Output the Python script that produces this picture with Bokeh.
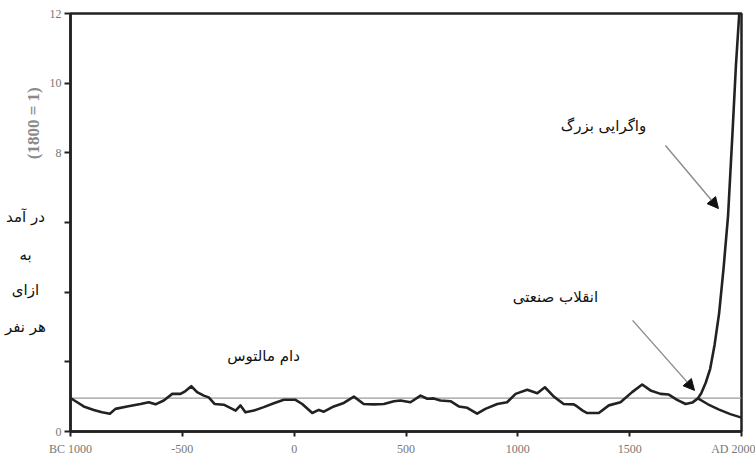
from bokeh.plotting import figure
from bokeh.models import Range1d, Label, Arrow, NormalHead, FixedTicker
from bokeh.layouts import row
from bokeh.core.properties import value
from bokeh.embed import file_html
from bokeh.resources import INLINE

# ---- data ----
years_malthus = [-1000, -970, -941, -896, -859, -824, -799, -747, -687, -650, -620, -583,
                 -545, -508, -486, -460, -434, -404, -382, -356, -315, -277, -262, -240,
                 -218, -180, -136, -91, -46, 6, 36, 81, 110, 133, 177, 222, 267, 311, 356,
                 401, 446, 475, 520, 565, 595, 624, 654, 699, 736, 774, 818, 855, 908, 952,
                 990, 1042, 1087, 1121, 1161, 1205, 1250, 1265, 1290, 1310, 1362, 1407,
                 1459, 1511, 1556, 1593, 1638, 1675, 1712, 1750, 1780, 1805]
income_malthus = [0.96, 0.84, 0.72, 0.62, 0.55, 0.51, 0.65, 0.72, 0.79, 0.84, 0.78, 0.89,
                  1.08, 1.08, 1.16, 1.30, 1.13, 1.03, 0.98, 0.79, 0.77, 0.65, 0.60, 0.75,
                  0.55, 0.60, 0.70, 0.81, 0.91, 0.91, 0.79, 0.53, 0.62, 0.57, 0.72, 0.82,
                  1.00, 0.79, 0.78, 0.79, 0.87, 0.89, 0.84, 1.03, 0.94, 0.95, 0.89, 0.87,
                  0.72, 0.68, 0.51, 0.65, 0.79, 0.84, 1.08, 1.20, 1.10, 1.27, 1.00, 0.79,
                  0.78, 0.72, 0.60, 0.53, 0.53, 0.75, 0.84, 1.13, 1.35, 1.18, 1.08, 1.06,
                  0.91, 0.79, 0.83, 0.95]

years_rich = [1805, 1820, 1840, 1860, 1880, 1900, 1920, 1940, 1960, 1975, 1990]
income_rich = [0.95, 1.1, 1.4, 1.8, 2.5, 3.4, 4.7, 6.2, 8.6, 10.5, 12.0]

years_poor = [1805, 1850, 1900, 1950, 2000]
income_poor = [0.95, 0.78, 0.63, 0.50, 0.40]

baseline_value = 0.96

x_ticks = [-1000, -500, 0, 500, 1000, 1500, 2000]
x_tick_labels = ["BC 1000", "-500", "0", "500", "1000", "1500", "AD 2000"]
y_ticks = [0, 2, 4, 6, 8, 10, 12]
y_tick_labels = ["0", "", "", "", "8", "10", "12"]

ylabel_lines = ["در آمد", "به", "ازای", "هر نفر"]
ylabel_unit = "(1800 = 1)"

TOP, BOTTOM = 13, 32
LEFT_W = 46

p = figure(width=755 - LEFT_W, height=463, output_backend="svg", toolbar_location=None,
           x_range=Range1d(-1000, 2000), y_range=Range1d(0, 12))
p.min_border_left = 70 - LEFT_W
p.min_border_right = 14
p.min_border_top = TOP
p.min_border_bottom = BOTTOM
p.xgrid.visible = False
p.ygrid.visible = False
p.background_fill_color = "white"
p.border_fill_color = "white"
p.outline_line_color = "#222222"
p.outline_line_width = 2.5

for ax in (p.xaxis[0], p.yaxis[0]):
    ax.axis_line_color = "#222222"
    ax.axis_line_width = 2.5
    ax.major_tick_line_color = "#222222"
    ax.major_tick_line_width = 2
    ax.major_tick_in = 0
    ax.major_tick_out = 6
    ax.minor_tick_line_color = None
    ax.major_label_text_font = "Liberation Serif"
    ax.major_label_text_font_size = "12px"
    ax.major_label_text_color = "#777777"

p.xaxis.ticker = FixedTicker(ticks=x_ticks)
p.xaxis.major_label_overrides = {t: l for t, l in zip(x_ticks, x_tick_labels)}
p.xaxis.major_tick_out = 5
p.yaxis.ticker = FixedTicker(ticks=y_ticks)
p.yaxis.major_label_overrides = {t: l for t, l in zip(y_ticks, y_tick_labels)}
p.yaxis.major_label_standoff = 3

# baseline 1800 = 1
p.line([x_ticks[0], x_ticks[-1]], [baseline_value, baseline_value],
       line_color="#9a9a9a", line_width=1.3)

p.line(years_malthus, income_malthus, line_color="#222222", line_width=2.6, line_join="round")
p.line(years_rich, income_rich, line_color="#222222", line_width=2.6, line_join="round")
p.line(years_poor, income_poor, line_color="#222222", line_width=2.4, line_join="round")

# arrows
for xs, ys, xe, ye in [(1660, 8.21, 1897, 6.40), (1513, 3.19, 1790, 1.18)]:
    p.add_layout(Arrow(x_start=xs, y_start=ys, x_end=xe, y_end=ye,
                       line_color="#8a8a8a", line_width=1.4,
                       end=NormalHead(size=11, fill_color="#111111", line_color="#111111")))

fa = "DejaVu Sans"
def lab(x, y, t, size="15px"):
    p.add_layout(Label(x=x, y=y, text=t, text_align="center", text_baseline="middle",
                       text_font=fa, text_font_size=size, text_color="#111111"))

lab(1383, 8.76, "واگرایی بزرگ")
lab(1168, 3.85, "انقلاب صنعتی")
lab(-137, 2.18, "دام مالتوس")

# left side panel with the y-axis title
q = figure(width=LEFT_W, height=463, output_backend="svg", toolbar_location=None,
           x_range=Range1d(0, LEFT_W), y_range=Range1d(0, 12))
q.axis.visible = False
q.xgrid.visible = False
q.ygrid.visible = False
q.outline_line_color = None
q.min_border_left = 0
q.min_border_right = 0
q.min_border_top = TOP
q.min_border_bottom = BOTTOM
q.text(x=[25] * 4, y=[6.17, 5.08, 4.05, 3.01], text=ylabel_lines,
       text_align="center", text_baseline="middle", text_font=value(fa),
       text_font_size="15px", text_color="#111111")
q.text(x=[33], y=[8.85], text=[ylabel_unit], angle=1.5708,
       text_align="center", text_baseline="middle", text_font=value("Liberation Serif"),
       text_font_size="17px", text_color="#8a8a8a", text_font_style="bold")

layout = row(q, p, spacing=0)
open("out.html", "w").write(file_html(layout, INLINE))
